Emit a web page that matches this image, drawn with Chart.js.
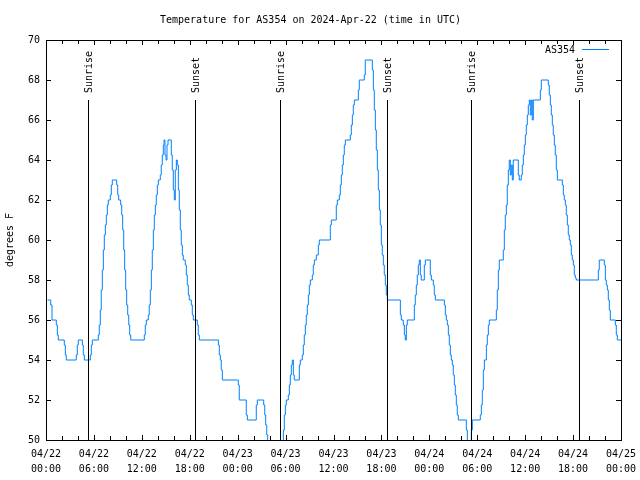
<!DOCTYPE html>
<html>
<head>
<meta charset="utf-8">
<script src="https://cdn.jsdelivr.net/npm/chart.js@4"></script>
<style>
  body { margin: 0; background: #fff; }
</style>
</head>
<body>
<canvas id="tempChart" width="640" height="480"></canvas>
<script>
// hours since 04/22 00:00 UTC where the reading changes, and the new reading
const times = [
  0.20, 0.59, 0.75, 1.29, 1.42, 1.54, 2.29, 2.42, 2.54, 3.79, 3.92, 4.04, 4.55, 4.67, 4.80,
  5.55, 5.67, 5.80, 6.55, 6.67, 6.80, 6.92, 7.05, 7.18, 7.30, 7.43, 7.55, 7.68, 7.80, 8.05,
  8.18, 8.30, 8.85, 8.98, 9.10, 9.35, 9.48, 9.60, 9.73, 9.85, 9.98, 10.10, 10.23, 10.36, 10.48,
  10.61, 12.31, 12.43, 12.56, 12.81, 12.93, 13.06, 13.19, 13.31, 13.44, 13.56, 13.69, 13.81, 13.94,
  14.06, 14.31, 14.43, 14.56, 14.69, 14.78, 14.90, 15.03, 15.15, 15.28, 15.69, 15.81, 15.94, 16.07,
  16.19, 16.32, 16.44, 16.57, 16.69, 16.82, 16.94, 17.07, 17.19, 17.44, 17.57, 17.69, 17.82, 17.94,
  18.19, 18.32, 18.45, 18.95, 19.07, 19.20, 21.58, 21.70, 21.83, 21.95, 22.08, 24.08, 24.20, 25.08,
  25.21, 26.33, 26.46, 27.26, 27.39, 27.51, 27.64, 27.76, 29.72, 29.84, 29.97, 30.09, 30.34, 30.47,
  30.59, 30.72, 30.84, 30.97, 31.09, 31.72, 31.84, 32.09, 32.22, 32.34, 32.47, 32.59, 32.72, 32.85,
  32.97, 33.10, 33.35, 33.47, 33.60, 33.85, 34.10, 34.22, 35.60, 35.73, 36.35, 36.48, 36.73, 36.85,
  36.98, 37.10, 37.23, 37.35, 37.48, 38.10, 38.23, 38.36, 38.48, 38.61, 39.11, 39.23, 39.86, 39.98,
  40.86, 40.99, 41.11, 41.24, 41.36, 41.49, 41.61, 41.74, 41.86, 41.99, 42.11, 42.24, 42.36, 42.49,
  42.61, 42.74, 44.37, 44.49, 44.74, 44.87, 44.99, 45.12, 45.24, 46.12, 46.24, 46.37, 46.49, 46.62,
  46.74, 46.87, 46.99, 47.37, 47.50, 48.12, 48.25, 48.50, 48.62, 48.75, 49.88, 50.00, 50.13, 50.25,
  50.38, 50.50, 50.63, 50.75, 50.88, 51.00, 51.13, 51.25, 51.38, 51.50, 51.63, 52.63, 52.76, 53.26,
  53.38, 54.38, 54.51, 54.63, 54.76, 54.89, 55.14, 55.26, 55.39, 55.51, 56.39, 56.51, 56.64, 56.76,
  57.26, 57.39, 57.51, 57.64, 57.76, 57.89, 58.01, 58.14, 58.26, 58.39, 58.51, 59.14, 59.26, 59.51,
  59.64, 59.77, 59.89, 60.02, 60.14, 60.27, 60.39, 60.52, 60.64, 60.77, 60.89, 61.02, 61.90, 62.02,
  62.90, 63.02, 63.15, 63.27, 63.40, 63.52, 63.65, 63.77, 63.90, 64.03, 64.65, 64.78, 64.90, 65.03,
  65.15, 65.28, 65.40, 65.53, 65.65, 65.78, 65.90, 66.03, 66.15, 66.28, 66.40, 69.16, 69.28, 69.91,
  70.04, 70.16, 70.29, 70.41, 70.54, 70.66, 71.29, 71.41, 71.54, 72.00
];
const temps = [
  57, 56.75, 56, 55.75, 55.25, 55, 54.75, 54.25, 54, 54.25, 54.75, 55, 54.75, 54.25, 54,
  54.25, 54.75, 55, 55.25, 55.75, 56.5, 57.5, 58.5, 59.5, 60.25, 60.75, 61.25, 61.75, 62, 62.25,
  62.75, 63, 62.75, 62.25, 62, 61.75, 61.25, 60.5, 59.5, 58.5, 57.5, 56.75, 56.25, 55.75, 55.25,
  55, 55.25, 55.75, 56, 56.25, 56.75, 57.5, 58.5, 59.5, 60.5, 61.25, 61.75, 62.25, 62.75,
  63, 63.25, 63.75, 64.25, 64.75, 65, 64.25, 64, 64.75, 65, 64.25, 63.5, 62.5, 62,
  63.5, 64, 63.75, 62.5, 61.5, 60.5, 59.75, 59.25, 59, 58.75, 58.25, 57.75, 57.25, 57,
  56.75, 56.25, 56, 55.75, 55.25, 55, 54.75, 54.25, 54, 53.5, 53, 52.75, 52, 51.25,
  51, 51.75, 52, 51.75, 51.25, 50.75, 50.25, 49, 50.5, 51.25, 51.75, 52, 52.25, 52.75,
  53.25, 53.75, 54, 53.25, 53, 53.75, 54, 54.25, 54.75, 55.25, 55.75, 56.25, 56.75, 57.25,
  57.75, 58, 58.25, 58.75, 59, 59.25, 59.75, 60, 60.75, 61, 61.75, 62, 62.25, 62.75,
  63.25, 63.75, 64.25, 64.75, 65, 65.25, 65.75, 66.25, 66.75, 67, 67.5, 68, 68.25, 69,
  68.5, 67.5, 66.5, 65.5, 64.5, 63.5, 62.5, 61.5, 60.75, 59.75, 59.25, 58.75, 58.25, 57.75,
  57.25, 57, 56.25, 56, 55.75, 55.25, 55, 55.75, 56, 56.75, 57.25, 57.75, 58.25, 58.75,
  59, 58.25, 58, 58.75, 59, 58.25, 58, 57.75, 57.25, 57, 56.75, 56.25, 56, 55.75,
  55.25, 54.75, 54.25, 54, 53.75, 53.25, 52.75, 52.25, 51.75, 51.25, 51, 50.5, 49.5, 50.5,
  51, 51.25, 51.75, 52.5, 53.5, 54, 54.75, 55.25, 55.75, 56, 56.5, 57.5, 58.5, 59,
  59.5, 60.5, 61.25, 61.75, 62.75, 63.5, 64, 63.25, 63.75, 63, 64, 63.25, 63, 63.25,
  63.75, 64.25, 64.75, 65.25, 65.75, 66.25, 66.75, 67, 66.25, 67, 66, 67, 67.5, 68,
  67.75, 67.25, 66.75, 66.25, 65.75, 65.25, 64.75, 64.25, 63.5, 63, 62.75, 62.25, 62, 61.75,
  61.25, 60.75, 60.25, 60, 59.75, 59.25, 59, 58.75, 58.25, 58.1, 58, 58.5, 59, 58.75,
  58, 57.75, 57.5, 57, 56.5, 56, 55.75, 55.25, 55, 55
];

const sunTimes = [5.26, 18.66, 29.30, 42.70, 53.22, 66.74];
const sunLabels = ["Sunrise", "Sunset", "Sunrise", "Sunset", "Sunrise", "Sunset"];
const sunLineTop = 67;

const dayLabels = ["04/22", "04/23", "04/24", "04/25"];
const hourLabels = ["00:00", "06:00", "12:00", "18:00"];

const FONT = "'DejaVu Sans Mono', 'Liberation Mono', monospace";
const lineColor = "rgb(0, 128, 255)";

const points = times.map((t, i) => ({ x: t, y: temps[i] }));

// gnuplot-like frame, inward ticks, sunrise/sunset markers and legend
const decorations = {
  id: "decorations",
  beforeDraw(chart) {
    const c = chart.ctx;
    c.save();
    c.fillStyle = "#fff";
    c.fillRect(0, 0, chart.width, chart.height);
    c.restore();
  },
  afterDatasetsDraw(chart) {
    const c = chart.ctx;
    const a = chart.chartArea;
    const xs = chart.scales.x;
    const ys = chart.scales.y;
    c.save();
    c.strokeStyle = "#000";
    c.lineWidth = 1;

    // sunrise / sunset lines
    sunTimes.forEach((t, i) => {
      const px = Math.round(xs.getPixelForValue(t)) + 0.5;
      const top = ys.getPixelForValue(sunLineTop);
      c.beginPath();
      c.moveTo(px, top);
      c.lineTo(px, a.bottom);
      c.stroke();
      c.save();
      c.translate(px + 1, top - 7);
      c.rotate(-Math.PI / 2);
      c.fillStyle = "#000";
      c.font = "10px " + FONT;
      c.textAlign = "left";
      c.textBaseline = "middle";
      c.fillText(sunLabels[i], 0, 0);
      c.restore();
    });

    // frame
    c.strokeRect(Math.round(a.left) + 0.5, Math.round(a.top) + 0.5,
      Math.round(a.right - a.left), Math.round(a.bottom - a.top));

    // x ticks every 2 h
    for (let h = 0; h <= 72; h += 2) {
      const px = Math.round(xs.getPixelForValue(h)) + 0.5;
      const len = h % 6 === 0 ? 5 : 4;
      c.beginPath();
      c.moveTo(px, a.bottom);
      c.lineTo(px, a.bottom - len);
      c.moveTo(px, a.top);
      c.lineTo(px, a.top + len);
      c.stroke();
    }
    // y ticks
    for (let v = 50; v <= 70; v += 2) {
      const py = Math.round(ys.getPixelForValue(v)) + 0.5;
      c.beginPath();
      c.moveTo(a.left, py);
      c.lineTo(a.left + 5, py);
      c.moveTo(a.right, py);
      c.lineTo(a.right - 5, py);
      c.stroke();
    }

    // legend
    const ds = chart.data.datasets[0];
    c.font = "10px " + FONT;
    c.fillStyle = "#000";
    c.textAlign = "right";
    c.textBaseline = "middle";
    c.fillText(ds.label, a.right - 46, a.top + 10);
    c.strokeStyle = ds.borderColor;
    c.beginPath();
    c.moveTo(a.right - 39, a.top + 9.5);
    c.lineTo(a.right - 12, a.top + 9.5);
    c.stroke();
    c.restore();
  }
};

const ctx = document.getElementById("tempChart").getContext("2d");

const tempChart = new Chart(ctx, {
  type: "line",
  data: {
    datasets: [
      {
        label: "AS354",
        data: points,
        stepped: "before",
        borderColor: lineColor,
        borderWidth: 1,
        pointRadius: 0,
        fill: false,
      },
    ],
  },
  options: {
    responsive: false,
    animation: false,
    devicePixelRatio: 1,
    layout: {
      padding: { left: 0, right: 19, top: 0, bottom: 0 },
    },
    plugins: {
      legend: { display: false },
      tooltip: { enabled: false },
      title: {
        display: true,
        text: "Temperature for AS354 on 2024-Apr-22 (time in UTC)",
        color: "#000",
        font: { family: FONT, size: 10, weight: "normal", lineHeight: 1.2 },
        padding: { top: 14, bottom: 14 },
      },
    },
    scales: {
      x: {
        type: "linear",
        min: 0,
        max: 72,
        grid: { display: false, drawTicks: false },
        border: { display: false },
        afterFit(scale) {
          scale.height = 40;
          scale.paddingLeft = 0;
          scale.paddingRight = 0;
        },
        ticks: {
          stepSize: 6,
          autoSkip: false,
          maxRotation: 0,
          padding: 7,
          color: "#000",
          font: { family: FONT, size: 10, lineHeight: 1.5 },
          callback(value) {
            const day = Math.floor(value / 24);
            const hour = Math.round((value % 24) / 6);
            return [dayLabels[day], hourLabels[hour]];
          },
        },
      },
      y: {
        min: 50,
        max: 70,
        grid: { display: false, drawTicks: false },
        border: { display: false },
        afterFit(scale) {
          scale.width = 46;
        },
        title: {
          display: true,
          text: "degrees F",
          color: "#000",
          font: { family: FONT, size: 10, lineHeight: 1.2 },
          padding: { top: 4, bottom: 0 },
        },
        ticks: {
          stepSize: 2,
          padding: 6,
          color: "#000",
          font: { family: FONT, size: 10 },
        },
      },
    },
  },
  plugins: [decorations],
});
</script>
</body>
</html>
